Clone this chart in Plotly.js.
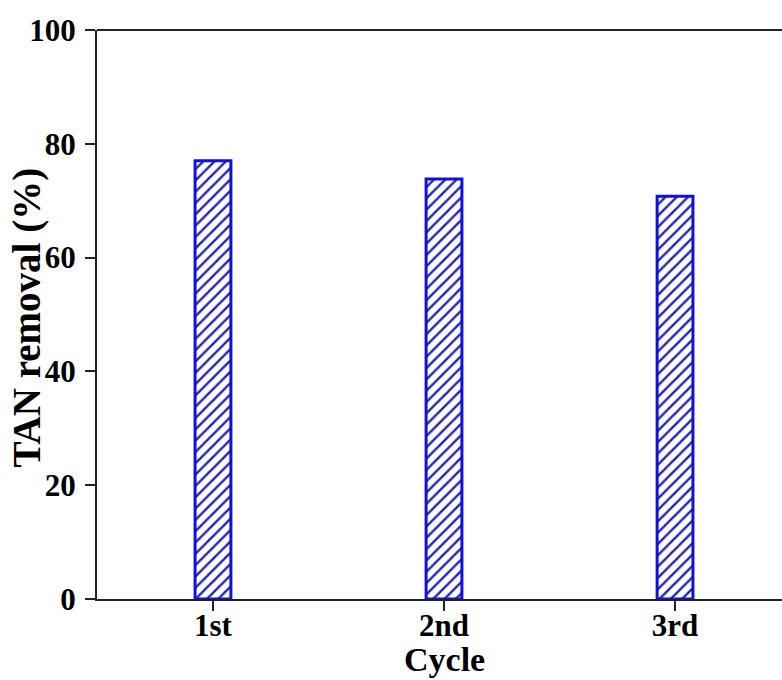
<!DOCTYPE html>
<html>
<head>
<meta charset="utf-8">
<script src="https://cdn.plot.ly/plotly-3.0.1.min.js"></script>
<style>html,body{margin:0;padding:0;background:#fff;}#chart{width:782px;height:680px;}</style>
</head>
<body>
<div id="chart"></div>
<script>
const cycles = ["1st", "2nd", "3rd"];
const tanRemoval = [77.0, 73.8, 70.8];
const yTicks = [0, 20, 40, 60, 80, 100];

const fontFam = '"Liberation Serif", "Times New Roman", serif';

const trace = {
  type: 'bar',
  x: cycles,
  y: tanRemoval,
  width: 0.155,
  marker: {
    color: 'white',
    line: {color: '#1010e0', width: 3},
    pattern: {shape: '/', fgcolor: '#2222b0', bgcolor: 'white', size: 8, solidity: 0.3}
  },
  hoverinfo: 'skip'
};

const layout = {
  width: 782, height: 680,
  margin: {l: 97, r: 0, t: 30, b: 81},
  paper_bgcolor: 'white', plot_bgcolor: 'white',
  showlegend: false,
  font: {family: fontFam, color: '#000', size: 26},
  xaxis: {
    type: 'category',
    range: [-0.502, 2.463],
    showline: true, linecolor: '#222', linewidth: 2,
    ticks: 'outside', ticklen: 10, tickwidth: 2, tickcolor: '#222',
    showgrid: false, zeroline: false,
    ticklabelstandoff: -12,
    tickfont: {family: fontFam, size: 31, color: '#000', weight: 'bold'}
  },
  yaxis: {
    range: [0, 100],
    tickvals: yTicks,
    ticktext: yTicks.map(String),
    showline: true, linecolor: '#222', linewidth: 2,
    ticks: 'outside', ticklen: 10, tickwidth: 2, tickcolor: '#222',
    showgrid: false, zeroline: false,
    ticklabelstandoff: 3,
    tickfont: {family: fontFam, size: 31, color: '#000', weight: 'bold'}
  },
  annotations: [{
    text: '<b>TAN removal (%)</b>',
    textangle: -90,
    xref: 'paper', yref: 'paper', x: 0, y: 0.5,
    xanchor: 'center', yanchor: 'middle',
    xshift: -71, yshift: -3,
    showarrow: false,
    font: {family: fontFam, size: 39, color: '#000'}
  }, {
    text: '<b>Cycle</b>',
    xref: 'paper', yref: 'paper', x: 0.5, y: 0,
    xanchor: 'center', yanchor: 'middle',
    xshift: 5, yshift: -60,
    showarrow: false,
    font: {family: fontFam, size: 34, color: '#000'}
  }],
  shapes: [{type: 'line', xref: 'paper', yref: 'paper', x0: 0, x1: 1, y0: 1, y1: 1, line: {color: '#222', width: 2}}]
};

Plotly.newPlot('chart', [trace], layout, {staticPlot: true, displayModeBar: false});
</script>
</body>
</html>
